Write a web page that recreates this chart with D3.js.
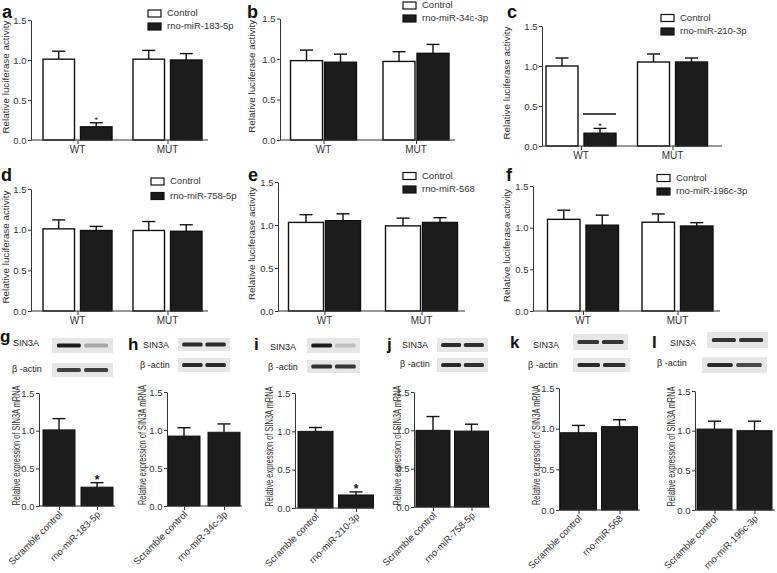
<!DOCTYPE html>
<html>
<head>
<meta charset="utf-8">
<script src="https://cdn.jsdelivr.net/npm/d3@7"></script>
<style>
  body { margin: 0; background: #fff; }
  svg { display: block; font-family: "Liberation Sans", Arial, sans-serif; }
</style>
</head>
<body>
<script>
// ---------------- DATA ----------------
const groupLabels = ["WT", "MUT"];
const controlLabel = "Control";
const lucMiRNAs = ["rno-miR-183-5p", "rno-miR-34c-3p", "rno-miR-210-3p", "rno-miR-758-5p", "rno-miR-568", "rno-miR-196c-3p"];
// [WT, MUT]
const lucControl    = [[1.01, 1.01], [0.98, 0.97], [1.00, 1.05], [1.01, 0.99], [1.03, 0.99], [1.10, 1.065]];
const lucControlErr = [[0.10, 0.11], [0.13, 0.12], [0.10, 0.10], [0.11, 0.11], [0.09, 0.09], [0.11, 0.10]];
const lucMiR        = [[0.165, 1.00], [0.96, 1.07], [0.16, 1.05], [0.99, 0.98], [1.05, 1.03], [1.03, 1.02]];
const lucMiRErr     = [[0.05, 0.08], [0.10, 0.11], [0.06, 0.05], [0.05, 0.08], [0.08, 0.055], [0.12, 0.04]];
const lucSignificant = [true, false, true, false, false, false];
const lucSigLineValue = [null, null, 0.40, null, null, null];

const yTickValues = [0, 0.5, 1.0, 1.5];
const yTickLabels = ["0.0", "0.5", "1.0", "1.5"];

const qScrambleLabel = "Scramble control";
const qMiRNAs = ["rno-miR-183-5p", "rno-miR-34c-3p", "rno-miR-210-3p", "rno-miR-758-5p", "rno-miR-568", "rno-miR-196c-3p"];
const qScramble    = [1.01, 0.92, 1.00, 1.00, 0.95, 1.02];
const qScrambleErr = [0.15, 0.11, 0.05, 0.18, 0.09, 0.10];
const qMiR         = [0.25, 0.97, 0.17, 0.99, 1.025, 1.00];
const qMiRErr      = [0.06, 0.11, 0.04, 0.09, 0.085, 0.12];
const qSignificant = [true, false, true, false, false, false];

// western blot band intensities (lane 1, lane 2)
const blotSIN3A = [[0.95, 0.30], [0.90, 0.90], [0.95, 0.18], [0.90, 0.88], [0.85, 0.85], [0.85, 0.85]];
const blotActin = [[0.80, 0.80], [0.90, 0.90], [0.88, 0.85], [0.90, 0.88], [0.90, 0.88], [0.90, 0.75]];
const blotLabels = ["SIN3A", "β -actin"];

const lucYTitle = "Relative luciferase activity";
const qYTitle = "Relative expression of SIN3A mRNA";
const panelLetters = ["a", "b", "c", "d", "e", "f", "g", "h", "i", "j", "k", "l"];

// ---------------- LAYOUT ----------------
const lucLayout = [
  { lx: 2,   ly: 18,  ax: 31,  y0: 140, y15: 20,   xEnd: 208, centers: [77.5, 167.5], gw: 69, gap: 6, titleX: 7,   legX: 148, legY: [13.5, 26.5] },
  { lx: 247, ly: 18,  ax: 280, y0: 140, y15: 18.5, xEnd: 455, centers: [323.5, 416],  gw: 66, gap: 2, titleX: 253, legX: 403, legY: [5.5, 18.5] },
  { lx: 507, ly: 18,  ax: 542, y0: 146, y15: 26,   xEnd: 722, centers: [581, 672.5],  gw: 70, gap: 6, titleX: 508, legX: 661, legY: [18, 31.5] },
  { lx: 1,   ly: 181, ax: 31,  y0: 311, y15: 189,  xEnd: 208, centers: [77.5, 167.5], gw: 69, gap: 6, titleX: 7,   legX: 151, legY: [181.5, 196] },
  { lx: 248, ly: 181, ax: 278, y0: 311, y15: 182,  xEnd: 465, centers: [324.5, 421.5],gw: 72, gap: 2, titleX: 253, legX: 403, legY: [176, 189.5] },
  { lx: 506, ly: 181, ax: 533, y0: 311, y15: 186,  xEnd: 720, centers: [583, 677.5],  gw: 71, gap: 6, titleX: 508, legX: 657, legY: [178, 191.5] }
];
const qLayout = [
  { lx: 0,   ly: 342, ax: 39,  y0: 506, y15: 393, xEnd: 115, centers: [59, 97],       bw: 32, titleX: 17,  sinLabel: [13, 346],  actLabel: [12, 372],  sinBox: [52, 338, 61, 15],  actBox: [52, 363, 61, 14] },
  { lx: 128, ly: 350, ax: 167, y0: 506, y15: 392, xEnd: 242, centers: [184, 224],     bw: 32, titleX: 143, sinLabel: [143, 348], actLabel: [140, 368], sinBox: [178, 338, 52, 13], actBox: [178, 358, 52, 14] },
  { lx: 254, ly: 350, ax: 295, y0: 508, y15: 393, xEnd: 374, centers: [315.5, 356],   bw: 35, titleX: 270, sinLabel: [270, 350], actLabel: [268, 370], sinBox: [307, 338, 53, 15], actBox: [307, 360, 53, 13] },
  { lx: 387, ly: 350, ax: 414, y0: 507, y15: 392, xEnd: 490, centers: [433, 471.5],   bw: 34, titleX: 398, sinLabel: [402, 348], actLabel: [400, 367], sinBox: [437, 338, 51, 14], actBox: [437, 358, 51, 14] },
  { lx: 510, ly: 348, ax: 559, y0: 510, y15: 388, xEnd: 640, centers: [578.5, 619.5], bw: 36, titleX: 537, sinLabel: [533, 348], actLabel: [528, 368], sinBox: [573, 334, 55, 16], actBox: [573, 358, 57, 14] },
  { lx: 652, ly: 348, ax: 695, y0: 510, y15: 391, xEnd: 775, centers: [714.5, 754.5], bw: 35, titleX: 672, sinLabel: [670, 346], actLabel: [657, 366], sinBox: [707, 332, 61, 16], actBox: [702, 357, 65, 16] }
];

const AXIS = "#333";
const FONT = "'Liberation Sans', Arial, sans-serif";

const svg = d3.select("body").append("svg").attr("width", 777).attr("height", 573);
svg.append("rect").attr("width", 777).attr("height", 573).attr("fill", "#fff");

const defs = svg.append("defs");
defs.append("filter").attr("id", "blur").attr("x", "-20%").attr("y", "-50%").attr("width", "140%").attr("height", "200%")
  .append("feGaussianBlur").attr("stdDeviation", 0.6);

function drawYAxis(g, y, L) {
  const ax = g.append("g").attr("transform", `translate(${L.ax},0)`)
    .call(d3.axisLeft(y).tickValues(yTickValues).tickFormat((d, i) => yTickLabels[i]).tickSize(3).tickPadding(1.5).tickSizeOuter(0));
  ax.select(".domain").attr("stroke", AXIS).attr("stroke-width", 1);
  ax.selectAll(".tick line").attr("stroke", AXIS);
  ax.selectAll(".tick text").attr("fill", "#333").style("font-size", "9.5px").style("font-family", FONT);
}

function drawXAxisLine(g, L, x) {
  g.append("line").attr("x1", L.ax).attr("x2", L.xEnd).attr("y1", L.y0).attr("y2", L.y0)
    .attr("stroke", AXIS).attr("stroke-width", 1);
  const xa = g.append("g").attr("transform", `translate(0,${L.y0})`)
    .call(d3.axisBottom(x).tickSize(4).tickSizeOuter(0).tickFormat(""));
  xa.select(".domain").remove();
  xa.selectAll(".tick line").attr("stroke", AXIS);
}

function errorBar(g, cx, yTop, yBar, capW) {
  g.append("line").attr("x1", cx).attr("x2", cx).attr("y1", yBar).attr("y2", yTop).attr("stroke", "#111").attr("stroke-width", 1.4);
  g.append("line").attr("x1", cx - capW / 2).attr("x2", cx + capW / 2).attr("y1", yTop).attr("y2", yTop).attr("stroke", "#111").attr("stroke-width", 1.4);
}

function yTitle(g, text, x, yc, len, size) {
  g.append("text").attr("transform", `translate(${x},${yc}) rotate(-90)`)
    .attr("text-anchor", "middle").attr("dominant-baseline", "middle")
    .attr("textLength", len).attr("lengthAdjust", "spacingAndGlyphs")
    .style("font-size", size + "px").attr("fill", "#333").text(text);
}

// ---------------- LUCIFERASE PANELS ----------------
lucLayout.forEach((L, p) => {
  const g = svg.append("g");
  const y = d3.scaleLinear().domain([0, 1.5]).range([L.y0, L.y15]);
  const x = d3.scaleOrdinal().domain(groupLabels).range(L.centers);
  const p2 = 2 * L.gap / (L.gw + L.gap);
  const x1 = d3.scaleBand().domain(["control", "mir"]).range([-L.gw / 2, L.gw / 2]).paddingInner(p2).paddingOuter(0);
  const bw = x1.bandwidth();

  groupLabels.forEach((grp, gi) => {
    const series = [
      { key: "control", v: lucControl[p][gi], e: lucControlErr[p][gi], fill: "#fff" },
      { key: "mir", v: lucMiR[p][gi], e: lucMiRErr[p][gi], fill: "#1c1c1c" }
    ];
    series.forEach(s => {
      const bx = x(grp) + x1(s.key);
      const cx = bx + bw / 2;
      errorBar(g, cx, y(s.v + s.e), y(s.v), 13);
      g.append("rect").attr("x", bx).attr("y", y(s.v)).attr("width", bw).attr("height", y(0) - y(s.v))
        .attr("fill", s.fill).attr("stroke", "#111").attr("stroke-width", 1.4);
      if (s.key === "mir" && gi === 0 && lucSignificant[p]) {
        g.append("text").attr("x", cx).attr("y", y(s.v + s.e) + 0.5).attr("text-anchor", "middle")
          .style("font-size", "9px").attr("fill", "#222").text("*");
        if (lucSigLineValue[p] != null) {
          g.append("line").attr("x1", bx - 1).attr("x2", bx + bw).attr("y1", y(lucSigLineValue[p])).attr("y2", y(lucSigLineValue[p]))
            .attr("stroke", "#111").attr("stroke-width", 1.4);
        }
      }
    });
  });

  drawXAxisLine(g, L, x);
  drawYAxis(g, y, L);
  groupLabels.forEach(grp => {
    g.append("text").attr("x", x(grp)).attr("y", L.y0 + 12.5).attr("text-anchor", "middle")
      .style("font-size", "10px").attr("fill", "#333").text(grp);
  });
  yTitle(g, lucYTitle, L.titleX, (L.y0 + L.y15) / 2 - 3, 113, 9);

  // legend
  const legItems = [{ t: controlLabel, fill: "#fff" }, { t: lucMiRNAs[p], fill: "#1c1c1c" }];
  legItems.forEach((it, i) => {
    g.append("rect").attr("x", L.legX).attr("y", L.legY[i] - 3.5).attr("width", 13).attr("height", 7)
      .attr("fill", it.fill).attr("stroke", "#111").attr("stroke-width", 1.2);
    g.append("text").attr("x", L.legX + 19).attr("y", L.legY[i]).attr("dominant-baseline", "middle")
      .style("font-size", "9.5px").attr("fill", "#333").text(it.t);
  });

  g.append("text").attr("x", L.lx).attr("y", L.ly).style("font-size", "18px").style("font-weight", "bold")
    .attr("fill", "#111").text(panelLetters[p]);
});

// ---------------- qPCR + BLOT PANELS ----------------
qLayout.forEach((L, p) => {
  const g = svg.append("g");
  const cats = [qScrambleLabel, qMiRNAs[p]];
  const vals = [qScramble[p], qMiR[p]];
  const errs = [qScrambleErr[p], qMiRErr[p]];
  const y = d3.scaleLinear().domain([0, 1.5]).range([L.y0, L.y15]);
  const x = d3.scaleOrdinal().domain(cats).range(L.centers);

  cats.forEach((c, i) => {
    const cx = x(c);
    errorBar(g, cx, y(vals[i] + errs[i]), y(vals[i]), 13);
    g.append("rect").attr("x", cx - L.bw / 2).attr("y", y(vals[i])).attr("width", L.bw).attr("height", y(0) - y(vals[i]))
      .attr("fill", "#1c1c1c").attr("stroke", "#111").attr("stroke-width", 1);
    if (i === 1 && qSignificant[p]) {
      g.append("text").attr("x", cx).attr("y", y(vals[i] + errs[i]) + 1).attr("text-anchor", "middle")
        .style("font-size", "12px").style("font-weight", "bold").attr("fill", "#111").text("*");
    }
  });

  drawXAxisLine(g, L, x);
  drawYAxis(g, y, L);
  cats.forEach(c => {
    g.append("text").attr("transform", `translate(${x(c) + 4},${L.y0 + 9}) rotate(-45)`)
      .attr("text-anchor", "end").style("font-size", "9.5px").attr("fill", "#333").text(c);
  });
  yTitle(g, qYTitle, L.titleX, (L.y0 + L.y15) / 2 - 4, 120, 10);

  // blots
  const blots = [
    { label: blotLabels[0], pos: L.sinLabel, box: L.sinBox, inten: blotSIN3A[p] },
    { label: blotLabels[1], pos: L.actLabel, box: L.actBox, inten: blotActin[p] }
  ];
  blots.forEach(b => {
    g.append("text").attr("x", b.pos[0]).attr("y", b.pos[1]).style("font-size", "9px").attr("fill", "#222").text(b.label);
    const [bx, by, bwid, bh] = b.box;
    g.append("rect").attr("x", bx).attr("y", by).attr("width", bwid).attr("height", bh).attr("fill", "#e6e6e6");
    const lane = d3.scaleBand().domain([0, 1]).range([bx, bx + bwid]).paddingInner(0.12).paddingOuter(0.18);
    b.inten.forEach((v, li) => {
      const col = d3.interpolateRgb("#e6e6e6", "#151515")(v);
      g.append("rect").attr("x", lane(li)).attr("y", by + bh / 2 - 2).attr("width", lane.bandwidth()).attr("height", 4)
        .attr("rx", 1.5).attr("fill", col).attr("filter", "url(#blur)");
    });
  });

  g.append("text").attr("x", L.lx).attr("y", L.ly).style("font-size", "17px").style("font-weight", "bold")
    .attr("fill", "#111").text(panelLetters[6 + p]);
});
</script>
</body>
</html>
